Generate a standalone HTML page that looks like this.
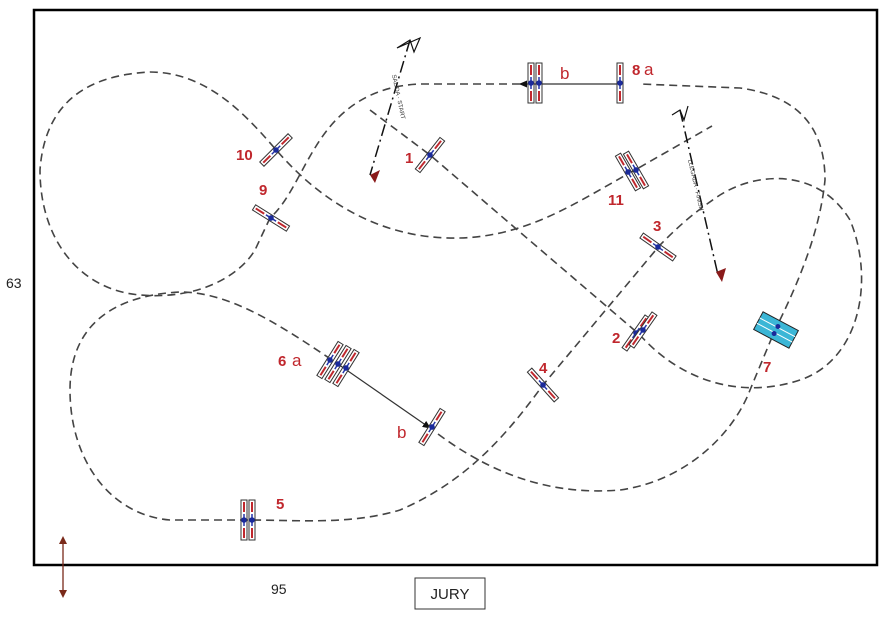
<!DOCTYPE html>
<html><head><meta charset="utf-8"><style>
html,body{margin:0;padding:0;background:#fff;}
svg{display:block;font-family:"Liberation Sans",sans-serif;}
.p{fill:none;stroke:#444;stroke-width:1.6;stroke-dasharray:8 5;}
.n{fill:#c0272d;font-weight:bold;font-size:15px;}
.l{fill:#c0272d;font-size:17px;}
</style></head><body>
<svg width="886" height="621" viewBox="0 0 886 621" xmlns="http://www.w3.org/2000/svg">
<defs>
<g id="f"><rect x="-3" y="-20" width="6" height="40" fill="#fff" stroke="#333" stroke-width="1"/><line x1="0" y1="-18" x2="0" y2="-8" stroke="#c0272d" stroke-width="2"/><line x1="0" y1="8" x2="0" y2="18" stroke="#c0272d" stroke-width="2"/><line x1="0" y1="-6" x2="0" y2="6" stroke="#2233aa" stroke-width="1.5"/><circle r="2.8" fill="#1a2a9a"/></g>
<marker id="a" markerWidth="8" markerHeight="8" refX="6" refY="3" orient="auto"><path d="M0,0 L7,3 L0,6z" fill="#111"/></marker>
</defs>
<rect x="34" y="10" width="843" height="555" fill="#fff" stroke="#000" stroke-width="2.5"/>
<!-- course paths -->
<path class="p" d="M370,110 L430,155 L640,335 C680,380 740,400 800,380 C860,360 875,280 850,220 C820,170 760,170 720,195 C690,215 675,230 660,245 L543,385 C510,430 470,480 400,510 C350,525 300,520 248,520 L170,520 C110,515 70,460 70,390 C70,320 120,295 180,292 C230,292 280,325 335,362"/>
<path d="M335,362 L430,428" stroke="#333" stroke-width="1.2" marker-end="url(#a)"/>
<path class="p" d="M438,434 C500,480 560,495 620,490 C690,480 735,430 750,390 L775,330 C800,280 820,230 825,180 C825,120 790,95 740,88 L640,84"/>
<path d="M620,84 L520,84" stroke="#333" stroke-width="1.2" marker-end="url(#a)"/>
<path class="p" d="M520,84 L420,84 C370,86 340,110 320,140 C300,170 290,200 270,218 L255,250 C240,275 200,300 140,295 C80,290 40,240 40,170 C45,100 90,75 150,72 C210,72 250,120 278,152 C320,200 380,240 460,238 C530,236 580,200 635,170 L712,126"/>
<!-- start / finish lines -->
<path d="M410,40 L370,175" stroke="#111" stroke-width="1.5" stroke-dasharray="12 4 2 4" fill="none"/>
<path d="M397,48 L410,40 L414,52 L420,38 Z" fill="none" stroke="#111" stroke-width="1.2"/>
<path d="M370,175 L380,170 L375,183 Z" fill="#8a1a1a"/>
<path d="M680,110 L718,275" stroke="#111" stroke-width="1.5" stroke-dasharray="12 4 2 4" fill="none"/>
<path d="M672,115 L680,110 L684,120 L688,106" fill="none" stroke="#111" stroke-width="1.2"/>
<path d="M716,272 L726,268 L722,282 Z" fill="#8a1a1a"/>
<text x="0" y="0" font-size="6" fill="#333" transform="translate(392,75) rotate(78)">SALIDA · START</text>
<text x="0" y="0" font-size="6" fill="#333" transform="translate(688,160) rotate(77)">LLEGADA · FINISH</text>
<!-- fences -->
<use href="#f" transform="translate(430,155) rotate(38)"/>
<use href="#f" transform="translate(636,333) rotate(35)"/><use href="#f" transform="translate(643,330) rotate(35)"/>
<use href="#f" transform="translate(658,247) rotate(-55)"/>
<use href="#f" transform="translate(543,385) rotate(-42)"/>
<use href="#f" transform="translate(244,520)"/><use href="#f" transform="translate(252,520)"/>
<use href="#f" transform="translate(330,360) rotate(32)"/><use href="#f" transform="translate(338,364) rotate(32)"/><use href="#f" transform="translate(346,368) rotate(32)"/>
<use href="#f" transform="translate(432,427) rotate(32)"/>
<g transform="translate(776,330) rotate(28)"><rect x="-20" y="-10" width="40" height="20" fill="#3bb6d6" stroke="#222"/><line x1="-20" y1="-3" x2="20" y2="-3" stroke="#fff"/><line x1="-20" y1="3" x2="20" y2="3" stroke="#fff"/><circle cx="0" cy="-4" r="2.5" fill="#1a2a9a"/><circle cx="0" cy="4" r="2.5" fill="#1a2a9a"/></g>
<use href="#f" transform="translate(620,83)"/>
<use href="#f" transform="translate(531,83)"/><use href="#f" transform="translate(539,83)"/>
<use href="#f" transform="translate(276,150) rotate(45)"/>
<use href="#f" transform="translate(271,218) rotate(-58)"/>
<use href="#f" transform="translate(628,172) rotate(-30)"/><use href="#f" transform="translate(636,170) rotate(-30)"/>
<!-- labels -->
<text class="n" x="405" y="163">1</text>
<text class="n" x="612" y="343">2</text>
<text class="n" x="653" y="231">3</text>
<text class="n" x="539" y="373">4</text>
<text class="n" x="276" y="509">5</text>
<text class="n" x="278" y="366">6</text><text class="l" x="292" y="366">a</text>
<text class="l" x="397" y="438">b</text>
<text class="n" x="763" y="372">7</text>
<text class="n" x="632" y="75">8</text><text class="l" x="644" y="75">a</text>
<text class="l" x="560" y="79">b</text>
<text class="n" x="259" y="195">9</text>
<text class="n" x="236" y="160">10</text>
<text class="n" x="608" y="205">11</text>
<!-- outside -->
<text x="6" y="288" font-size="14" fill="#222">63</text>
<text x="271" y="594" font-size="14" fill="#222">95</text>
<rect x="415" y="578" width="70" height="31" fill="#fff" stroke="#333" stroke-width="1"/>
<text x="450" y="599" font-size="15" fill="#222" text-anchor="middle">JURY</text>
<line x1="63" y1="542" x2="63" y2="592" stroke="#7a2a1a" stroke-width="1.3"/>
<path d="M59,544 L63,536 L67,544Z M59,590 L63,598 L67,590Z" fill="#7a2a1a"/>
</svg>
</body></html>
